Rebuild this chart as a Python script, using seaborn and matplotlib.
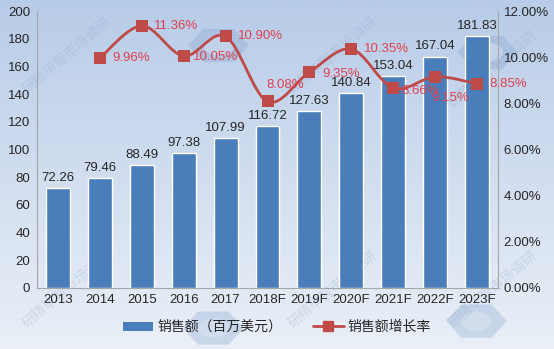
import numpy as np
import pandas as pd
import matplotlib
matplotlib.use("Agg")
import matplotlib.pyplot as plt
from matplotlib.path import Path
from matplotlib.patches import PathPatch, RegularPolygon
from matplotlib.lines import Line2D
from matplotlib.patches import Patch
import seaborn as sns

years = ["2013", "2014", "2015", "2016", "2017", "2018F", "2019F",
         "2020F", "2021F", "2022F", "2023F"]
sales = [72.26, 79.46, 88.49, 97.38, 107.99, 116.72, 127.63,
         140.84, 153.04, 167.04, 181.83]
growth = [None, 9.96, 11.36, 10.05, 10.90, 8.08, 9.35, 10.35, 8.66, 9.15, 8.85]
growth_labels = ["", "9.96%", "11.36%", "10.05%", "10.90%", "8.08%", "9.35%",
                 "10.35%", "8.66%", "9.15%", "8.85%"]
left_ticks = list(range(0, 201, 20))
right_ticks = [0, 2, 4, 6, 8, 10, 12]
legend_labels = ["销售额（百万美元）", "销售额增长率"]

sns.set_theme(style="white")
plt.rcParams["font.family"] = ["Liberation Sans", "Noto Sans CJK SC", "DejaVu Sans"]

BAR = "#4a7ebb"
LINE = "#be4b48"
LABEL_RED = "#e0404e"
TXT = "#262626"
AXIS = "#a6a6a6"

fig = plt.figure(figsize=(5.54, 3.49), dpi=100)

# background gradient
bg = fig.add_axes([0, 0, 1, 1], zorder=-10)
grad = np.linspace(0, 1, 256).reshape(-1, 1)
top = np.array([0.72, 0.80, 0.91])
bot = np.array([0.92, 0.94, 0.97])
img = top[None, None, :] * (1 - grad[:, :, None]) + bot[None, None, :] * grad[:, :, None]
bg.imshow(img, aspect="auto", extent=[0, 1, 0, 1], origin="upper")
bg.set_axis_off()

# faint watermarks
for (x, y) in [(0.12, 0.84), (0.6, 0.84), (0.89, 0.8),
               (0.12, 0.17), (0.6, 0.17), (0.89, 0.17)]:
    bg.text(x, y, "研精毕智市场调研", transform=bg.transAxes, rotation=40,
            fontsize=10, color="#8fa6c6", alpha=0.3, ha="center", va="center",
            family=["Noto Sans CJK SC"])
for (x, y) in [(0.395, 0.87), (0.88, 0.85), (0.86, 0.08), (0.385, 0.06)]:
    bg.add_patch(RegularPolygon((x, y), 6, radius=0.055, orientation=np.pi / 6,
                                transform=bg.transAxes, color="#7e9fcc", alpha=0.3, lw=0))
    bg.add_patch(plt.Circle((x, y), 0.028, transform=bg.transAxes, color="#dfe8f4", alpha=0.45, lw=0))

ax = fig.add_axes([37 / 554, 1 - 288 / 349, (498 - 37) / 554, (288 - 11) / 349])
ax.patch.set_alpha(0)

df = pd.DataFrame({"year": years, "sales": sales})
sns.barplot(data=df, x="year", y="sales", color=BAR, width=0.57,
            saturation=1, ax=ax, zorder=2)
ax.set_ylim(0, 200)
ax.set_xlim(-0.5, len(years) - 0.5)
ax.set_yticks(left_ticks)
ax.set_xlabel("")
ax.set_ylabel("")
ax.tick_params(axis="both", labelsize=9.5, colors=TXT, length=0, pad=5)
ax.tick_params(axis="x", pad=4)
for s in ["top", "right"]:
    ax.spines[s].set_visible(False)
for s in ["left", "bottom"]:
    ax.spines[s].set_color(AXIS)
    ax.spines[s].set_linewidth(0.8)

for i, v in enumerate(sales):
    ax.text(i, v + 3, f"{v:.2f}", ha="center", va="bottom", fontsize=9.5, color=TXT, zorder=5)

ax2 = ax.twinx()
ax2.set_ylim(0, 12)
ax2.set_yticks(right_ticks)
ax2.set_yticklabels([f"{t:.2f}%" for t in right_ticks])
ax2.tick_params(axis="y", labelsize=9.5, colors=TXT, length=0, pad=4)
for s in ["top", "left", "bottom"]:
    ax2.spines[s].set_visible(False)
ax2.spines["right"].set_color(AXIS)
ax2.spines["right"].set_linewidth(0.8)

gx = np.array([i for i, g in enumerate(growth) if g is not None], dtype=float)
gy = np.array([g for g in growth if g is not None], dtype=float)

# smoothed connector (Catmull-Rom as cubic Bezier segments)
pts = np.column_stack([gx, gy])
ext = np.vstack([pts[0], pts, pts[-1]])
verts = [tuple(pts[0])]
codes = [Path.MOVETO]
for k in range(1, len(ext) - 2):
    p0, p1, p2, p3 = ext[k - 1], ext[k], ext[k + 1], ext[k + 2]
    c1 = p1 + (p2 - p0) / 6
    c2 = p2 - (p3 - p1) / 6
    verts += [tuple(c1), tuple(c2), tuple(p2)]
    codes += [Path.CURVE4] * 3
ax2.add_patch(PathPatch(Path(verts, codes), fill=False, edgecolor=LINE, lw=2.0, zorder=3))

gdf = pd.DataFrame({"x": gx, "y": gy})
sns.scatterplot(data=gdf, x="x", y="y", marker="s", s=70, color=LINE,
                edgecolor=LINE, linewidth=0, ax=ax2, zorder=4, legend=False)
ax2.set_xlabel("")
ax2.set_ylabel("")

offsets = {1: (9, 0), 2: (9, 0), 3: (7, -1), 4: (9, 0), 5: (-1, 12),
           6: (9, -1), 7: (9, 0), 8: (6, -2), 9: (-3, -15), 10: (9, 0)}
for i, g in enumerate(growth):
    if g is None:
        continue
    dx, dy = offsets[i]
    ax2.annotate(growth_labels[i], (i, g), xytext=(dx, dy), textcoords="offset points",
                 ha="left", va="center", fontsize=9.5, color=LABEL_RED, zorder=6)

handles = [Patch(facecolor=BAR, edgecolor="none"),
           Line2D([0], [0], color=LINE, lw=2.0, marker="s", markersize=6.5)]
leg = fig.legend(handles, legend_labels, loc="center", bbox_to_anchor=(0.5, 1 - 327 / 349),
                 ncol=2, frameon=False, fontsize=10, handlelength=2.2,
                 handleheight=0.6, columnspacing=2.2, handletextpad=0.3)
for txt in leg.get_texts():
    txt.set_color(TXT)
    txt.set_family(["Noto Sans CJK SC", "DejaVu Sans"])

fig.savefig("out.png", dpi=100)
